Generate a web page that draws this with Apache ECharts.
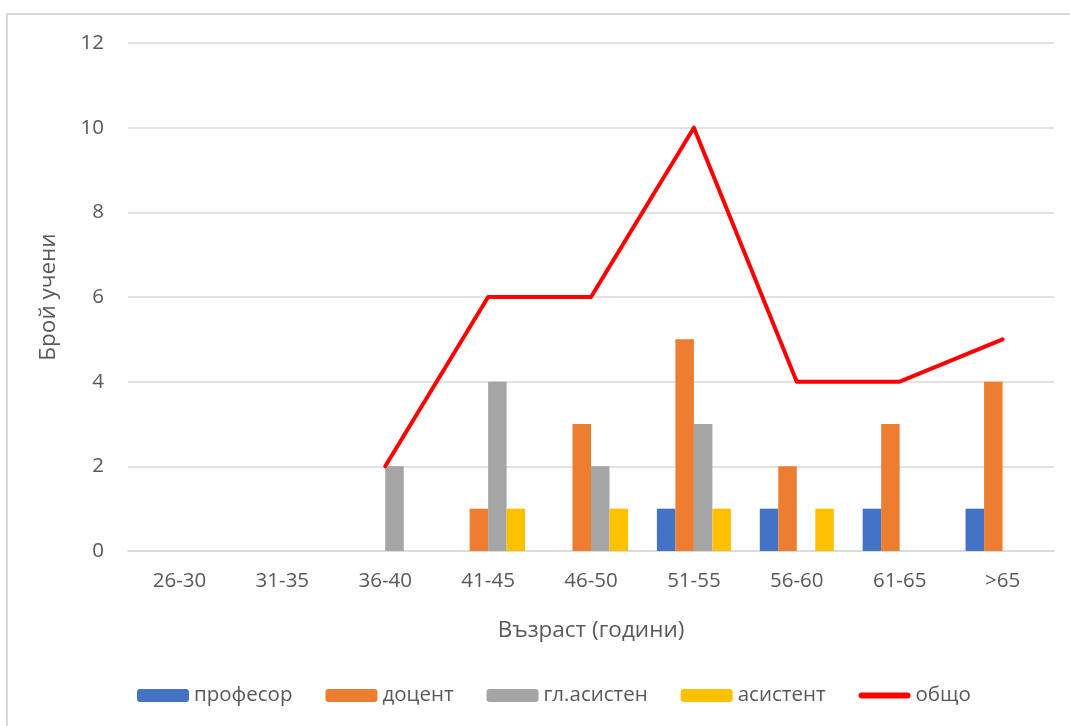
<!DOCTYPE html>
<html>
<head>
<meta charset="utf-8">
<script src="https://cdn.jsdelivr.net/npm/echarts@6/dist/echarts.min.js"></script>
<style>
html,body{margin:0;padding:0;background:#fff;}
#main{width:1070px;height:726px;}
</style>
</head>
<body>
<div id="main"></div>
<script>
var categories = ['26-30','31-35','36-40','41-45','46-50','51-55','56-60','61-65','>65'];
var profesor   = [0,0,0,0,0,1,1,1,1];
var docent     = [0,0,0,1,3,5,2,3,4];
var glAsisten  = [0,0,2,4,2,3,0,0,0];
var asitent    = [0,0,0,1,1,1,1,0,0];
var obshto     = ['-','-',2,6,6,10,4,4,5];
var yTicks     = [0,2,4,6,8,10,12];

var FONT = 'Open Sans';
var TXT = '#595959';
var FS = 20.5;
var FT = 22.5;
var chart = echarts.init(document.getElementById('main'));
function bar(name, data, color){
  return {name:name, type:'bar', data:data, barWidth:18.5, barGap:'0%',
    itemStyle:{color:color, borderWidth:0}};
}
chart.setOption({
  animation:false,
  textStyle:{fontFamily:FONT, color:TXT},
  graphic:[{type:'rect', shape:{x:7,y:14,width:1100,height:800},
    style:{fill:'none', stroke:'#D9D9D9', lineWidth:2}, silent:true}],
  grid:{left:128, right:16, top:43, bottom:175, containLabel:false},
  legend:{left:132, top:680, itemWidth:52, itemHeight:13, itemGap:33,
    textStyle:{fontFamily:FONT, fontSize:FS, color:TXT},
    data:['професор','доцент','гл.асистен','асистент',
      {name:'общо', icon:'path://M3,0 L49,0 A3,3 0 0 1 49,6 L3,6 A3,3 0 0 1 3,0 Z'}]},
  xAxis:{type:'category', data:categories,
    axisLine:{lineStyle:{color:'#D9D9D9', width:1.5}}, axisTick:{show:false},
    axisLabel:{fontSize:FS, color:TXT, margin:20, fontFamily:FONT},
    name:'Възраст (години)', nameLocation:'middle', nameGap:68,
    nameTextStyle:{fontSize:FT, color:TXT, fontFamily:FONT}},
  yAxis:{type:'value', min:yTicks[0], max:yTicks[yTicks.length-1], interval:2,
    axisLine:{show:false}, axisTick:{show:false},
    splitLine:{lineStyle:{color:'#D9D9D9', width:1.5}},
    axisLabel:{fontSize:FS, color:TXT, margin:24, fontFamily:FONT},
    name:'Брой учени', nameLocation:'middle', nameGap:68,
    nameTextStyle:{fontSize:FT, color:TXT, fontFamily:FONT}},
  series:[
    bar('професор', profesor, '#4472C4'),
    bar('доцент', docent, '#ED7D31'),
    bar('гл.асистен', glAsisten, '#A5A5A5'),
    bar('асистент', asitent, '#FFC000'),
    {name:'общо', type:'line', data:obshto, symbol:'none', connectNulls:false,
      lineStyle:{color:'#FF0000', width:4, cap:'round', join:'round'},
      itemStyle:{color:'#FF0000'}}
  ]
});
</script>
</body>
</html>
